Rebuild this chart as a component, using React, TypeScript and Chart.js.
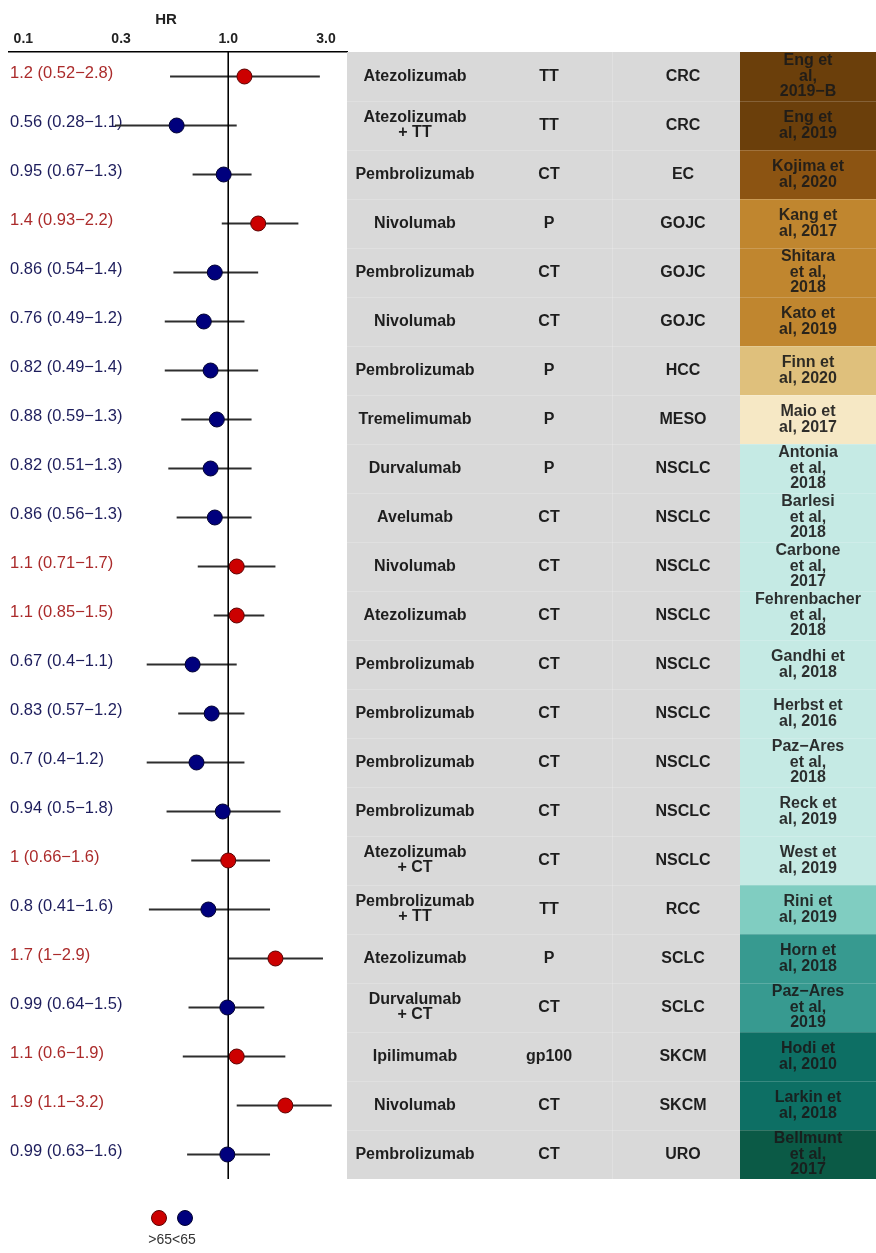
import { useEffect, useRef } from "react";
import { Chart, registerables } from "chart.js";

Chart.register(...registerables);

// ---------- data ----------
const hrValues = [1.2, 0.56, 0.95, 1.4, 0.86, 0.76, 0.82, 0.88, 0.82, 0.86, 1.1, 1.1, 0.67, 0.83, 0.7, 0.94, 1, 0.8, 1.7, 0.99, 1.1, 1.9, 0.99];
const ciLower = [0.52, 0.28, 0.67, 0.93, 0.54, 0.49, 0.49, 0.59, 0.51, 0.56, 0.71, 0.85, 0.4, 0.57, 0.4, 0.5, 0.66, 0.41, 1, 0.64, 0.6, 1.1, 0.63];
const ciUpper = [2.8, 1.1, 1.3, 2.2, 1.4, 1.2, 1.4, 1.3, 1.3, 1.3, 1.7, 1.5, 1.1, 1.2, 1.2, 1.8, 1.6, 1.6, 2.9, 1.5, 1.9, 3.2, 1.6];
const groups = [">65", "<65", "<65", ">65", "<65", "<65", "<65", "<65", "<65", "<65", ">65", ">65", "<65", "<65", "<65", "<65", ">65", "<65", ">65", "<65", ">65", ">65", "<65"];
const hrLabels = [
  "1.2 (0.52−2.8)", "0.56 (0.28−1.1)", "0.95 (0.67−1.3)", "1.4 (0.93−2.2)", "0.86 (0.54−1.4)",
  "0.76 (0.49−1.2)", "0.82 (0.49−1.4)", "0.88 (0.59−1.3)", "0.82 (0.51−1.3)", "0.86 (0.56−1.3)",
  "1.1 (0.71−1.7)", "1.1 (0.85−1.5)", "0.67 (0.4−1.1)", "0.83 (0.57−1.2)", "0.7 (0.4−1.2)",
  "0.94 (0.5−1.8)", "1 (0.66−1.6)", "0.8 (0.41−1.6)", "1.7 (1−2.9)", "0.99 (0.64−1.5)",
  "1.1 (0.6−1.9)", "1.9 (1.1−3.2)", "0.99 (0.63−1.6)",
];
const drugs = [
  "Atezolizumab", "Atezolizumab\n+ TT", "Pembrolizumab", "Nivolumab", "Pembrolizumab",
  "Nivolumab", "Pembrolizumab", "Tremelimumab", "Durvalumab", "Avelumab",
  "Nivolumab", "Atezolizumab", "Pembrolizumab", "Pembrolizumab", "Pembrolizumab",
  "Pembrolizumab", "Atezolizumab\n+ CT", "Pembrolizumab\n+ TT", "Atezolizumab", "Durvalumab\n+ CT",
  "Ipilimumab", "Nivolumab", "Pembrolizumab",
];
const controls = ["TT", "TT", "CT", "P", "CT", "CT", "P", "P", "P", "CT", "CT", "CT", "CT", "CT", "CT", "CT", "CT", "TT", "P", "CT", "gp100", "CT", "CT"];
const cancers = ["CRC", "CRC", "EC", "GOJC", "GOJC", "GOJC", "HCC", "MESO", "NSCLC", "NSCLC", "NSCLC", "NSCLC", "NSCLC", "NSCLC", "NSCLC", "NSCLC", "NSCLC", "RCC", "SCLC", "SCLC", "SKCM", "SKCM", "URO"];
const studies = [
  "Eng et\nal,\n2019−B", "Eng et\nal, 2019", "Kojima et\nal, 2020", "Kang et\nal, 2017", "Shitara\net al,\n2018",
  "Kato et\nal, 2019", "Finn et\nal, 2020", "Maio et\nal, 2017", "Antonia\net al,\n2018", "Barlesi\net al,\n2018",
  "Carbone\net al,\n2017", "Fehrenbacher\net al,\n2018", "Gandhi et\nal, 2018", "Herbst et\nal, 2016", "Paz−Ares\net al,\n2018",
  "Reck et\nal, 2019", "West et\nal, 2019", "Rini et\nal, 2019", "Horn et\nal, 2018", "Paz−Ares\net al,\n2019",
  "Hodi et\nal, 2010", "Larkin et\nal, 2018", "Bellmunt\net al,\n2017",
];
const tickValues = [0.1, 0.3, 1, 3];
const tickLabels = ["0.1", "0.3", "1.0", "3.0"];
const legendLabels = [">65", "<65"];

// ---------- styles ----------
const FONT = "'Liberation Sans', Arial, sans-serif";
const cancerColors: Record<string, string> = {
  CRC: "#6b3f0b",
  EC: "#8c5412",
  GOJC: "#c0862f",
  HCC: "#dfc07c",
  MESO: "#f6e8c5",
  NSCLC: "#c5eae4",
  RCC: "#80cdc1",
  SCLC: "#379a90",
  SKCM: "#0d6f64",
  URO: "#0b5a46",
};
const groupFill: Record<string, string> = { ">65": "#cc0000", "<65": "#00007d" };
const groupBorder: Record<string, string> = { ">65": "#5a0000", "<65": "#000030" };
const groupText: Record<string, string> = { ">65": "#ab2b2b", "<65": "#1d1d5c" };

const W = 876;
const H = 1253;
const PLOT_LEFT = 5;
const PLOT_RIGHT = 347;
const PLOT_TOP = 52;
const PLOT_BOTTOM = 1179;
const TABLE_LEFT = 347;
const REF_LEFT = 740;
const COL_DRUG = 415;
const COL_CTRL = 549;
const COL_CANCER = 683;
const COL_REF = 808;

function drawLines(ctx: CanvasRenderingContext2D, text: string, x: number, yc: number, lh: number) {
  const lines = text.split("\n");
  const start = yc - ((lines.length - 1) * lh) / 2;
  lines.forEach((ln, k) => ctx.fillText(ln, x, start + k * lh));
}

const forestPlugin = {
  id: "forestTable",
  beforeDatasetsDraw(chart: any) {
    const ctx: CanvasRenderingContext2D = chart.ctx;
    const ys = chart.scales.y;
    ctx.save();
    // table
    for (let i = 0; i < drugs.length; i++) {
      const top = ys.getPixelForValue(i - 0.5);
      const bot = ys.getPixelForValue(i + 0.5);
      ctx.fillStyle = "#d9d9d9";
      ctx.fillRect(TABLE_LEFT, top, REF_LEFT - TABLE_LEFT, bot - top);
      ctx.fillStyle = cancerColors[cancers[i]];
      ctx.fillRect(REF_LEFT, top, W - REF_LEFT, bot - top);
    }
    // faint separators
    ctx.strokeStyle = "rgba(255,255,255,0.18)";
    ctx.lineWidth = 1;
    for (let i = 1; i < drugs.length; i++) {
      const yy = Math.round(ys.getPixelForValue(i - 0.5)) + 0.5;
      ctx.beginPath();
      ctx.moveTo(TABLE_LEFT, yy);
      ctx.lineTo(W, yy);
      ctx.stroke();
    }
    ctx.beginPath();
    ctx.moveTo(612.5, ys.getPixelForValue(-0.5));
    ctx.lineTo(612.5, ys.getPixelForValue(drugs.length - 0.5));
    ctx.stroke();

    // table text
    ctx.fillStyle = "#1e1e1e";
    ctx.font = `bold 16px ${FONT}`;
    ctx.textAlign = "center";
    ctx.textBaseline = "middle";
    for (let i = 0; i < drugs.length; i++) {
      const yc = ys.getPixelForValue(i);
      drawLines(ctx, drugs[i], COL_DRUG, yc, 15);
      drawLines(ctx, controls[i], COL_CTRL, yc, 15);
      drawLines(ctx, cancers[i], COL_CANCER, yc, 15);
      ctx.fillStyle = "rgba(25,25,25,0.9)";
      drawLines(ctx, studies[i], COL_REF, yc, 15.5);
      ctx.fillStyle = "#1e1e1e";
    }

    // HR labels on the left
    ctx.font = `16.5px ${FONT}`;
    ctx.textAlign = "left";
    for (let i = 0; i < hrLabels.length; i++) {
      ctx.fillStyle = groupText[groups[i]];
      ctx.fillText(hrLabels[i], 10, ys.getPixelForValue(i) - 3);
    }
    ctx.restore();
  },
  afterDraw(chart: any) {
    const ctx: CanvasRenderingContext2D = chart.ctx;
    ctx.save();
    // axis title
    ctx.fillStyle = "#222";
    ctx.font = `bold 15px ${FONT}`;
    ctx.textAlign = "center";
    ctx.textBaseline = "middle";
    ctx.fillText("HR", 166, 20);
    // legend
    legendLabels.forEach((g, k) => {
      ctx.beginPath();
      ctx.arc(159 + k * 26, 1218, 7.5, 0, Math.PI * 2);
      ctx.fillStyle = groupFill[g];
      ctx.fill();
      ctx.lineWidth = 1;
      ctx.strokeStyle = groupBorder[g];
      ctx.stroke();
    });
    ctx.fillStyle = "#333";
    ctx.font = `14px ${FONT}`;
    ctx.textAlign = "center";
    ctx.fillText(legendLabels.join(""), 172, 1240);
    ctx.restore();
  },
};

export default function App() {
  const canvasRef = useRef<HTMLCanvasElement | null>(null);

  useEffect(() => {
    if (!canvasRef.current) return;
    const n = hrValues.length;
    const whiskerData: any[] = [];
    for (let i = 0; i < n; i++) {
      whiskerData.push({ x: ciLower[i], y: i }, { x: ciUpper[i], y: i }, { x: ciUpper[i], y: null });
    }
    const pointsFor = (g: string) =>
      hrValues.map((v, i) => ({ x: v, y: i })).filter((_, i) => groups[i] === g);

    const xMin = Math.pow(10, (PLOT_LEFT - 227) / 207);
    const xMax = Math.pow(10, (PLOT_RIGHT - 227) / 207);

    const chart = new Chart(canvasRef.current, {
      type: "scatter",
      data: {
        datasets: [
          ...legendLabels.map((g) => ({
            label: g,
            data: pointsFor(g),
            pointRadius: 7.5,
            pointHoverRadius: 7.5,
            pointBackgroundColor: groupFill[g],
            pointBorderColor: groupBorder[g],
            pointBorderWidth: 1,
            showLine: false,
          })),
          {
            label: "ref",
            data: [{ x: 1, y: -0.5 }, { x: 1, y: n - 0.5 }],
            showLine: true,
            borderColor: "#000",
            borderWidth: 1.6,
            pointRadius: 0,
          },
          {
            label: "CI",
            data: whiskerData,
            showLine: true,
            spanGaps: false,
            borderColor: "#2e2e2e",
            borderWidth: 2,
            pointRadius: 0,
          },
        ] as any,
      },
      options: {
        animation: false,
        responsive: false,
        devicePixelRatio: 1,
        layout: {
          padding: { left: PLOT_LEFT, right: W - PLOT_RIGHT, top: 0, bottom: H - PLOT_BOTTOM },
        },
        plugins: { legend: { display: false }, tooltip: { enabled: false } },
        scales: {
          x: {
            type: "logarithmic",
            position: "top",
            min: xMin,
            max: xMax,
            afterBuildTicks: (scale: any) => {
              scale.ticks = tickValues.map((v) => ({ value: v }));
            },
            afterFit: (scale: any) => {
              scale.height = PLOT_TOP;
            },
            ticks: {
              autoSkip: false,
              maxRotation: 0,
              padding: 4,
              color: "#222",
              font: { family: FONT, size: 14, weight: "bold" },
              callback: (v: any) => {
                const idx = tickValues.indexOf(Number(v));
                return idx >= 0 ? tickLabels[idx] : "";
              },
            },
            grid: { display: false, drawTicks: false },
            border: { display: true, color: "#000", width: 1.5 },
          },
          y: {
            type: "linear",
            min: -0.5,
            max: n - 0.5,
            reverse: true,
            display: false,
          },
        },
      } as any,
      plugins: [forestPlugin],
    });
    return () => chart.destroy();
  }, []);

  return (
    <div style={{ position: "absolute", left: 0, top: 0, width: W, height: H, background: "#fff" }}>
      <canvas ref={canvasRef} width={W} height={H} />
    </div>
  );
}
